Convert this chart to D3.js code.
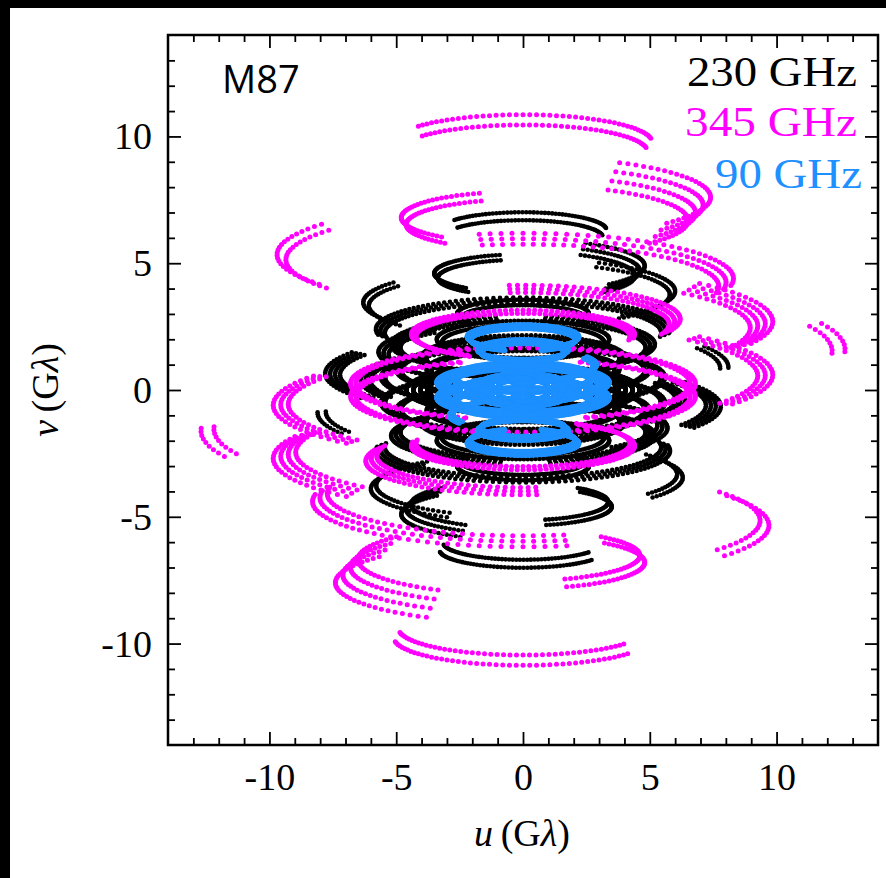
<!DOCTYPE html>
<html>
<head>
<meta charset="utf-8">
<script src="https://cdn.jsdelivr.net/npm/d3@7/dist/d3.min.js"></script>
<style>
  html, body { margin: 0; padding: 0; background: #fff; overflow: hidden; }
  svg { display: block; }
</style>
</head>
<body>
<svg id="chart" width="886" height="878"></svg>
<script>
// ---------------- DATA ----------------
// Each uv track (Earth-rotation ellipse arc), in Gλ:
// [A (u semi-axis), v0 (v centre), h1, h2 (hour-angle range, deg), copies, copyScaleStep]
// every track is drawn together with its conjugate (-u, -v).
const tracks230 = [
  [3.3, 6.3, -55, 85, 2, 0.045],
  [4.8, 4.9, 31, 135, 3, 0.04],
  [6.3, 3.45, -127, -53, 2, 0.035],
  [3.5, 4.6, -140, -15, 2, 0.04],
  [5.7, 1.5, -140, -40, 3, 0.035],
  [7.8, 0.65, -125, -60, 4, 0.025],
  [8.1, 0.9, 62, 92, 2, 0.04],
  [4.6, 0.0, -180, 180, 4, 0.06],
  [5.8, 2.4, -100, 100, 3, 0.03],
  [6.0, -3.9, -150, -40, 2, 0.035],
  [5.2, -1.8, -170, 170, 3, 0.035],
  [3.4, 2.0, -180, 180, 2, 0.06],
  [2.6, 3.0, -120, 120, 2, 0.06],
  [5.0, 0.8, -160, 160, 2, 0.04],
  [6.4, -0.4, 60, 130, 3, 0.03],
  [4.0, 1.3, -180, 180, 2, 0.05],
  [5.6, -0.5, -180, 180, 2, 0.03],
  [3.8, -0.8, -180, 180, 2, 0.05]
];
const tracks345 = [
  [5.1, 9.76, -54, 82, 2, 0.037],
  [7.4, 7.6, 31, 131, 4, 0.04],
  [9.7, 5.34, -124, -53, 2, 0.036],
  [4.8, 6.8, -138, -20, 2, 0.04],
  [8.3, 4.4, -12, 100, 3, 0.035],
  [9.85, 2.7, 45, 115, 4, 0.03],
  [9.85, 0.6, 45, 125, 3, 0.03],
  [12.7, 1.6, 68, 92, 2, 0.04],
  [6.8, 0.25, -160, 160, 2, 0.03],
  [4.4, 2.2, -150, 100, 2, 0.04],
  [6.2, 2.8, -5, 110, 3, 0.035]
];
const tracks90 = [
  [3.4, 0.3, -180, 180, 2, 0.04],
  [3.1, -0.2, -180, 180, 2, 0.05],
  [2.8, 0.5, -180, 180, 2, 0.08],
  [2.5, 0.0, -180, 180, 3, 0.12],
  [1.6, 0.3, -180, 180, 3, 0.2],
  [0.8, 0.6, -180, 180, 2, 0.4],
  [2.2, 2.1, -160, 160, 2, 0.06],
  [1.8, 1.6, -180, 180, 2, 0.08],
  [2.9, 1.0, 60, 150, 2, 0.05]
];
const ellipseRatio = 0.215;      // v semi-axis / u semi-axis (sin of M87 declination)
const hourStep = [2.6, 3, 1.6];  // sampling step along the tracks (deg) per series
const seriesNames = ["230 GHz", "345 GHz", "90 GHz"];
const seriesColors = ["#000000", "#ff00ff", "#1e90ff"];
const majorTicks = [-10, -5, 0, 5, 10];
const minorTicks = d3.range(-13, 14, 1);
const sourceName = "M87";

// ---------------- CHART ----------------
const svg = d3.select("#chart");
const W = 886, H = 878;
const plot = {left: 168, top: 35, right: 878, bottom: 745};

svg.append("rect").attr("width", W).attr("height", H).attr("fill", "#fff");
// dark strips of the original figure canvas
svg.append("rect").attr("x", 0).attr("y", 0).attr("width", W).attr("height", 8).attr("fill", "#000");
svg.append("rect").attr("x", 0).attr("y", 0).attr("width", 10).attr("height", H).attr("fill", "#000");

const x = d3.scaleLinear().domain([-14, 14]).range([plot.left, plot.right]);
const y = d3.scaleLinear().domain([-14, 14]).range([plot.bottom, plot.top]);

function trackPoints(tracks, step) {
  const pts = [];
  tracks.forEach(([A, v0, h1, h2, n, ds]) => {
    for (let k = 0; k < n; k++) {
      const s = 1 - k * ds;
      for (let h = h1; h <= h2 + 1e-9; h += step) {
        const r = h * Math.PI / 180;
        const u = s * A * Math.sin(r);
        const v = s * (v0 + ellipseRatio * A * Math.cos(r));
        pts.push([u, v]);
        pts.push([-u, -v]);
      }
    }
  });
  return pts;
}

const series = [tracks230, tracks345, tracks90];
const radii = [2.3, 2.5, 2.5];

svg.append("clipPath").attr("id", "clip")
  .append("rect").attr("x", plot.left).attr("y", plot.top)
  .attr("width", plot.right - plot.left).attr("height", plot.bottom - plot.top);

const gPts = svg.append("g").attr("clip-path", "url(#clip)");
series.forEach((tr, i) => {
  gPts.append("g").selectAll("circle")
    .data(trackPoints(tr, hourStep[i]))
    .join("circle")
    .attr("cx", d => x(d[0]))
    .attr("cy", d => y(d[1]))
    .attr("r", radii[i])
    .attr("fill", seriesColors[i]);
});

// axes
const tickFont = "'Liberation Serif', 'DejaVu Serif', serif";
const fmt = d => String(d);   // plain hyphen minus like the original
function styleAxis(g) {
  g.select(".domain").remove();
  g.selectAll(".tick line").attr("stroke", "#000").attr("stroke-width", 1.8);
}
svg.append("g").attr("transform", `translate(0,${plot.bottom})`)
  .call(d3.axisBottom(x).tickValues(majorTicks).tickSize(-13).tickPadding(0).tickFormat(fmt))
  .call(styleAxis)
  .call(g => g.selectAll(".tick text").attr("y", 45).attr("dy", 0)
    .attr("font-family", tickFont).attr("font-size", 38).attr("fill", "#000"));
svg.append("g").attr("transform", `translate(${plot.left},0)`)
  .call(d3.axisLeft(y).tickValues(majorTicks).tickSize(-13).tickPadding(0).tickFormat(fmt))
  .call(styleAxis)
  .call(g => g.selectAll(".tick text").attr("x", -16).attr("dy", "0.33em")
    .attr("font-family", tickFont).attr("font-size", 38).attr("fill", "#000"));
svg.append("g").attr("transform", `translate(0,${plot.top})`)
  .call(d3.axisTop(x).tickValues(majorTicks).tickSize(-13).tickFormat(""))
  .call(styleAxis);
svg.append("g").attr("transform", `translate(${plot.right},0)`)
  .call(d3.axisRight(y).tickValues(majorTicks).tickSize(-13).tickFormat(""))
  .call(styleAxis);
const minorOnly = minorTicks.filter(t => !majorTicks.includes(t));
[[d3.axisBottom(x), `translate(0,${plot.bottom})`], [d3.axisTop(x), `translate(0,${plot.top})`],
 [d3.axisLeft(y), `translate(${plot.left},0)`], [d3.axisRight(y), `translate(${plot.right},0)`]]
  .forEach(([ax, tf]) => {
    svg.append("g").attr("transform", tf)
      .call(ax.tickValues(minorOnly).tickSize(-7).tickFormat(""))
      .call(styleAxis);
  });

// frame
svg.append("rect").attr("x", plot.left).attr("y", plot.top)
  .attr("width", plot.right - plot.left).attr("height", plot.bottom - plot.top)
  .attr("fill", "none").attr("stroke", "#000").attr("stroke-width", 2.5);

// source label
svg.append("text").attr("x", 222).attr("y", 93)
  .attr("font-family", "'Open Sans', 'Noto Sans', sans-serif").attr("font-size", 38)
  .attr("fill", "#000").text(sourceName);

// legend texts
const legendPos = [[857, 86, 170], [857, 136, 172], [862, 188, 147]];
seriesNames.forEach((name, i) => {
  svg.append("text").attr("x", legendPos[i][0]).attr("y", legendPos[i][1])
    .attr("text-anchor", "end")
    .attr("font-family", tickFont).attr("font-size", 43)
    .attr("textLength", legendPos[i][2]).attr("lengthAdjust", "spacingAndGlyphs")
    .attr("fill", seriesColors[i]).text(name);
});

// axis titles
function axisTitle(sel, letter) {
  sel.attr("font-family", tickFont).attr("font-size", 38).attr("fill", "#000").attr("text-anchor", "middle");
  sel.append("tspan").attr("font-style", "italic").text(letter);
  sel.append("tspan").text("\u2009(G");
  sel.append("tspan").attr("font-style", "italic").text("\u03bb");
  sel.append("tspan").text(")");
}
svg.append("text").attr("x", 522).attr("y", 846).call(axisTitle, "u");
svg.append("text").attr("transform", "translate(58,390) rotate(-90)").call(axisTitle, "v");
</script>
</body>
</html>
